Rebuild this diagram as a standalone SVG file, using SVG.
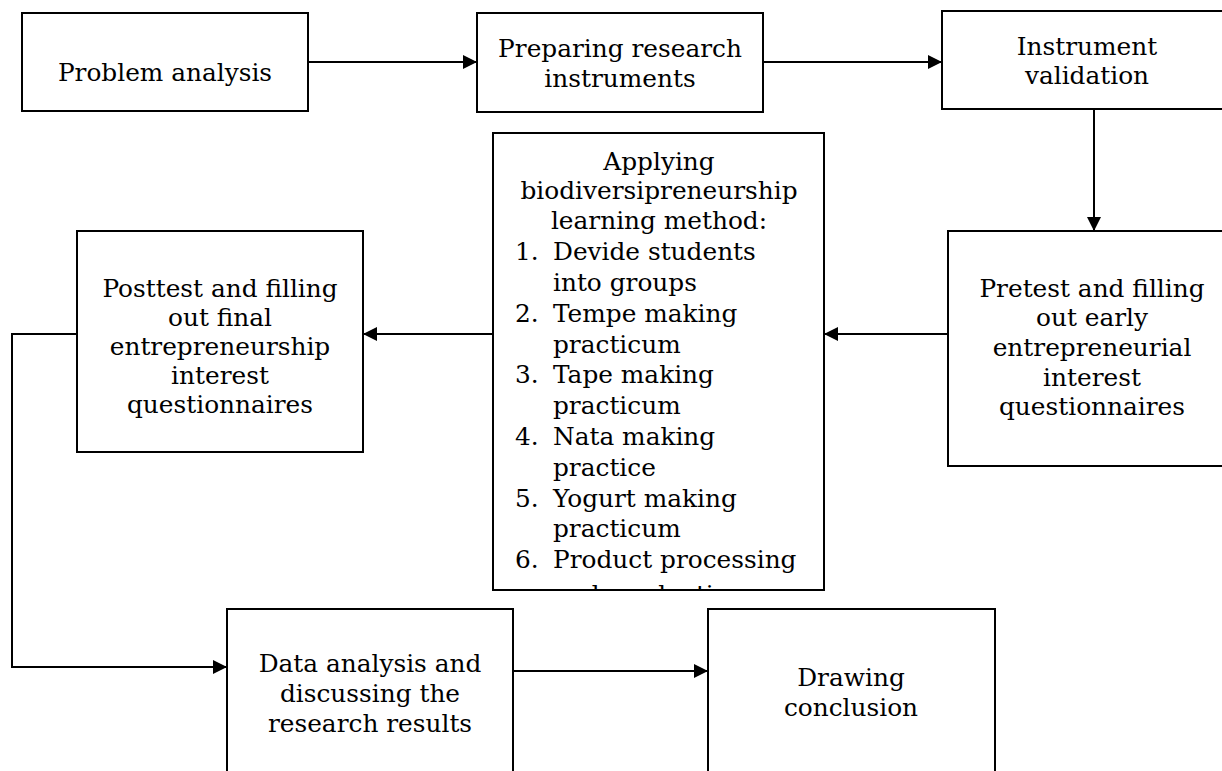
<svg xmlns="http://www.w3.org/2000/svg" width="1222" height="771" viewBox="0 0 1222 771">
<style>
.box{fill:#fff;stroke:#000;stroke-width:2}
.t{font-family:"DejaVu Serif","Liberation Serif",serif;font-size:24.8px;fill:#000}
.c{text-anchor:middle}
.conn{fill:none;stroke:#000;stroke-width:2}
</style>
<defs>
<marker id="ah" markerUnits="userSpaceOnUse" markerWidth="15" markerHeight="14" refX="14" refY="7" orient="auto">
<path d="M0,0 L14,7 L0,14 z" fill="#000"/>
</marker>
<clipPath id="clipApply"><rect x="494" y="134" width="329" height="455"/></clipPath>
</defs>
<rect width="1222" height="771" fill="#fff"/>
<g id="connectors">
<path class="conn" d="M308,62 H477" marker-end="url(#ah)"/>
<path class="conn" d="M763,62 H942" marker-end="url(#ah)"/>
<path class="conn" d="M1094,109 V231" marker-end="url(#ah)"/>
<path class="conn" d="M948,334 H824" marker-end="url(#ah)"/>
<path class="conn" d="M493,334 H363" marker-end="url(#ah)"/>
<path class="conn" d="M77,334 H12 V667 H227" marker-end="url(#ah)"/>
<path class="conn" d="M513,671 H708" marker-end="url(#ah)"/>
</g>
<g id="problem-analysis">
<rect class="box" x="22" y="13" width="286" height="98"/>
<text class="t c" x="165" y="81">Problem analysis</text>
</g>
<g id="preparing-instruments">
<rect class="box" x="477" y="13" width="286" height="99"/>
<text class="t c" x="620" y="57">Preparing research</text>
<text class="t c" x="620" y="87">instruments</text>
</g>
<g id="instrument-validation">
<rect class="box" x="942" y="11" width="300" height="98"/>
<text class="t c" x="1087" y="55">Instrument</text>
<text class="t c" x="1087" y="84">validation</text>
</g>
<g id="pretest">
<rect class="box" x="948" y="231" width="300" height="235"/>
<text class="t c" x="1092" y="297">Pretest and filling</text>
<text class="t c" x="1092" y="326">out early</text>
<text class="t c" x="1092" y="356">entrepreneurial</text>
<text class="t c" x="1092" y="386">interest</text>
<text class="t c" x="1092" y="415">questionnaires</text>
</g>
<g id="applying-method">
<rect class="box" x="493" y="133" width="331" height="457"/>
<text class="t c" x="659" y="170">Applying</text>
<text class="t c" x="659" y="199">biodiversipreneurship</text>
<text class="t c" x="659" y="229">learning method:</text>
<text class="t" x="515" y="260">1.</text>
<text class="t" x="553" y="260">Devide students</text>
<text class="t" x="553" y="291">into groups</text>
<text class="t" x="515" y="322">2.</text>
<text class="t" x="553" y="322">Tempe making</text>
<text class="t" x="553" y="353">practicum</text>
<text class="t" x="515" y="383">3.</text>
<text class="t" x="553" y="383">Tape making</text>
<text class="t" x="553" y="414">practicum</text>
<text class="t" x="515" y="445">4.</text>
<text class="t" x="553" y="445">Nata making</text>
<text class="t" x="553" y="476">practice</text>
<text class="t" x="515" y="507">5.</text>
<text class="t" x="553" y="507">Yogurt making</text>
<text class="t" x="553" y="537">practicum</text>
<text class="t" x="515" y="568">6.</text>
<text class="t" x="553" y="568">Product processing</text>
<text class="t" x="553" y="603" clip-path="url(#clipApply)">and production</text>
</g>
<g id="posttest">
<rect class="box" x="77" y="231" width="286" height="221"/>
<text class="t c" x="220" y="297">Posttest and filling</text>
<text class="t c" x="220" y="326">out final</text>
<text class="t c" x="220" y="355">entrepreneurship</text>
<text class="t c" x="220" y="384">interest</text>
<text class="t c" x="220" y="413">questionnaires</text>
</g>
<g id="data-analysis">
<rect class="box" x="227" y="609" width="286" height="200"/>
<text class="t c" x="370" y="672">Data analysis and</text>
<text class="t c" x="370" y="702">discussing the</text>
<text class="t c" x="370" y="732">research results</text>
</g>
<g id="drawing-conclusion">
<rect class="box" x="708" y="609" width="287" height="200"/>
<text class="t c" x="851" y="686">Drawing</text>
<text class="t c" x="851" y="716">conclusion</text>
</g>
</svg>
